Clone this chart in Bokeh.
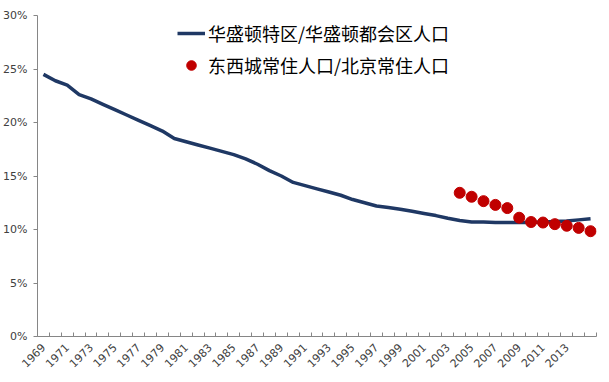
import math
from bokeh.plotting import figure
from bokeh.models import (Range1d, FixedTicker, PrintfTickFormatter, Legend, LegendItem,
                          BasicTickFormatter)
from bokeh.embed import file_html
from bokeh.resources import INLINE

# ---- data ----
years = list(range(1969, 2016))
dc_share = [24.5, 23.9, 23.5, 22.6, 22.2, 21.7, 21.2, 20.7, 20.2, 19.7,
            19.2, 18.5, 18.2, 17.9, 17.6, 17.3, 17.0, 16.6, 16.1, 15.5,
            15.0, 14.4, 14.1, 13.8, 13.5, 13.2, 12.8, 12.5, 12.2, 12.05,
            11.9, 11.7, 11.5, 11.3, 11.05, 10.85, 10.7, 10.7, 10.65, 10.65,
            10.65, 10.65, 10.7, 10.75, 10.8, 10.9, 11.0]
bj_years = list(range(2004, 2016))
bj_share = [13.43, 13.06, 12.65, 12.3, 12.0, 11.1, 10.7, 10.65, 10.5, 10.35, 10.15, 9.84]
label_years = list(range(1969, 2014, 2))
y_ticks = [0, 5, 10, 15, 20, 25, 30]
legend_dc = "华盛顿特区/华盛顿都会区人口"
legend_bj = "东西城常住人口/北京常住人口"

p = figure(width=601, height=374, output_backend="svg", toolbar_location=None,
           x_range=Range1d(years[0] - 0.5, years[-1] + 0.5), y_range=Range1d(0, 30),
           min_border_left=37, min_border_right=5, min_border_top=15, min_border_bottom=38)
p.outline_line_color = None
p.xgrid.visible = False
p.ygrid.visible = False
p.background_fill_color = "white"
p.border_fill_color = "white"

r_line = p.line(years, dc_share, line_color="#1F3864", line_width=3.5)
r_dot = p.scatter(bj_years, bj_share, size=11, fill_color="#C00000", line_color="#C00000")

# y axis
ya = p.yaxis[0]
ya.ticker = FixedTicker(ticks=y_ticks)
ya.formatter = PrintfTickFormatter(format="%d%%")
ya.axis_line_color = "#868686"
ya.major_tick_line_color = "#868686"
ya.major_tick_in = 0
ya.major_tick_out = 4
ya.minor_tick_line_color = None
ya.major_label_text_font = "DejaVu Sans"
ya.major_label_text_font_size = "11px"
ya.major_label_text_color = "#404040"
ya.major_label_standoff = 6

# x axis
xa = p.xaxis[0]
xa.ticker = FixedTicker(ticks=label_years, minor_ticks=[y - 0.5 for y in years] + [years[-1] + 0.5])
xa.formatter = BasicTickFormatter(use_scientific=False)
xa.axis_line_color = "#868686"
xa.major_tick_line_color = None
xa.minor_tick_line_color = "#868686"
xa.minor_tick_in = 4
xa.minor_tick_out = 0
xa.major_label_orientation = math.pi / 4
xa.major_label_text_font = "DejaVu Sans"
xa.major_label_text_font_size = "11px"
xa.major_label_text_color = "#404040"
xa.major_label_standoff = 3

legend = Legend(items=[LegendItem(label=legend_dc, renderers=[r_line]),
                       LegendItem(label=legend_bj, renderers=[r_dot])],
                location=(140, 258), border_line_color=None, background_fill_alpha=0,
                padding=0, margin=0, spacing=6, glyph_width=28, glyph_height=24,
                label_standoff=3, label_text_font="Noto Sans CJK SC",
                label_text_font_size="18px", label_text_color="#000000",
                label_height=24)
p.add_layout(legend, "center")

open("out.html", "w").write(file_html(p, INLINE))
